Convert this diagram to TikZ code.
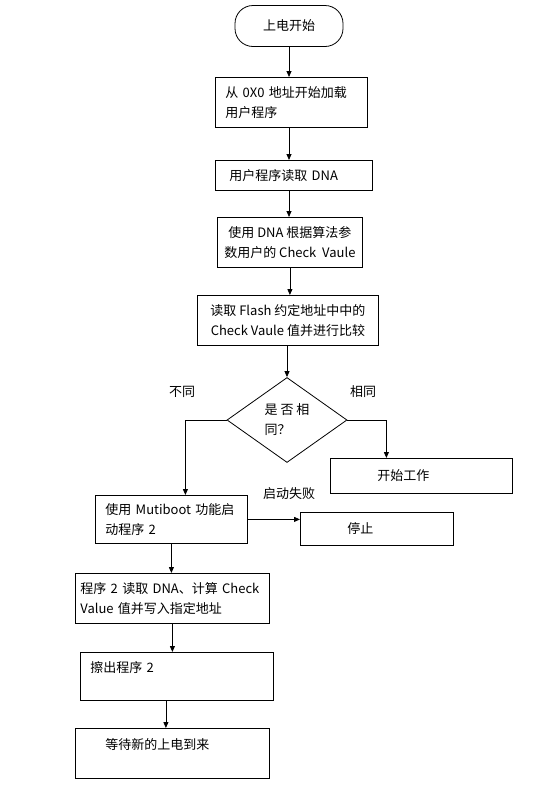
\documentclass[tikz,border=0pt]{standalone}
\usepackage{fontspec}
\setmainfont{Noto Sans CJK SC}
\usetikzlibrary{shapes.geometric,arrows.meta}
\begin{document}
\begin{tikzpicture}[
    x=1pt, y=1pt,
    font=\fontsize{13}{20}\selectfont,
    line width=0.8pt,
    startbox/.style={draw, rounded corners=18pt, minimum width=108pt, minimum height=41pt},
    pbox/.style={draw, anchor=north west, align=left, inner ysep=0pt},
    cbox/.style={draw, anchor=north west, align=center, inner ysep=0pt},
    decision/.style={draw, diamond, aspect=1.41, minimum width=120pt, minimum height=85pt, inner sep=0pt, align=left},
    flow/.style={-{Triangle[length=6pt,width=5pt]}},
  ]
    \useasboundingbox (0,0) rectangle (542,-801);
    % main column
    \node[startbox] (start) at (289,-26) {上电开始};
    \node[pbox, minimum width=152pt, minimum height=50pt, inner xsep=10pt, text width=132pt] (load) at (215,-77) {从 0X0 地址开始加载\\用户程序};
    \node[pbox, minimum width=157pt, minimum height=30pt, inner xsep=14pt, text width=129pt] (read) at (215,-160) {用户程序读取 DNA};
    \node[cbox, minimum width=145pt, minimum height=50pt] (calc) at (217,-217) {使用 DNA 根据算法参\\数用户的 Check\ \ Vaule};
    \node[cbox, minimum width=181pt, minimum height=50pt] (cmp) at (197,-295) {读取 Flash 约定地址中中的\\Check Vaule 值并进行比较};
    \node[decision] (same) at (287,-420) {是 否 相\\同？};
    \node (diff) at (182,-392) {不同};
    \node (eq) at (363,-392) {相同};
    % branches
    \node[pbox, minimum width=182pt, minimum height=35pt, inner xsep=47pt, text width=88pt] (work) at (330,-458) {开始工作};
    \node[pbox, minimum width=152pt, minimum height=48pt, inner xsep=10pt, text width=132pt] (mboot) at (95,-495) {使用 Mutiboot 功能启\\动程序 2};
    \node (fail) at (289,-494) {启动失败};
    \node[pbox, minimum width=153pt, minimum height=33pt, inner xsep=47pt, text width=59pt] (stop) at (300,-512) {停止};
    \node[pbox, minimum width=194pt, minimum height=50pt, inner xsep=5pt, text width=184pt] (dna2) at (75,-573) {程序 2 读取 DNA、计算 Check\\Value 值并写入指定地址};
    \node[pbox, minimum width=193pt, inner xsep=10pt, text width=173pt, inner ysep=5pt, text height=15pt, text depth=23pt] (erase) at (80,-652) {擦出程序 2};
    \node[pbox, minimum width=194pt, inner xsep=30pt, text width=134pt, inner ysep=5pt, text height=16pt, text depth=24pt] (wait) at (75,-728) {等待新的上电到来};
    % connectors
    \draw[flow] (start.south) -- (start.south |- load.north);
    \draw[flow] (load.south -| start.south) -- (start.south |- read.north);
    \draw[flow] (read.south -| start.south) -- (start.south |- calc.north);
    \draw[flow] (calc.south) -- (calc.south |- cmp.north);
    \draw[flow] (cmp.south -| same.north) -- (same.north);
    \draw[flow] (same.west) -| ([xshift=14pt]mboot.north);
    \draw[flow] (same.east) -| ([xshift=-35pt]work.north);
    \draw[flow] (mboot.east) -- (mboot.east -| stop.west);
    \draw[flow] (mboot.south) -- (mboot.south |- dna2.north);
    \draw[flow] (dna2.south) -- (dna2.south |- erase.north);
    \draw[flow] ([xshift=-11pt]erase.south) -- ([xshift=-11pt]erase.south |- wait.north);
  \end{tikzpicture}
\end{document}
